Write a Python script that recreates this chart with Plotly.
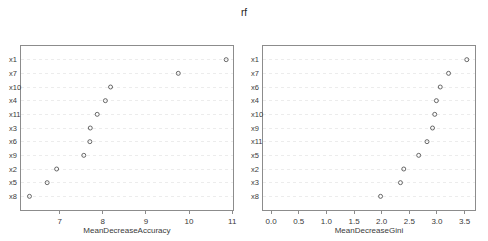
import plotly.graph_objects as go

acc_labels = ["x1", "x7", "x10", "x4", "x11", "x3", "x6", "x9", "x2", "x5", "x8"]
acc_values = [10.86, 9.75, 8.18, 8.06, 7.87, 7.71, 7.70, 7.56, 6.93, 6.71, 6.30]

gini_labels = ["x1", "x7", "x6", "x4", "x10", "x9", "x11", "x5", "x2", "x3", "x8"]
gini_values = [3.54, 3.21, 3.06, 2.99, 2.96, 2.92, 2.82, 2.67, 2.40, 2.34, 1.98]

acc_ticks = [7, 8, 9, 10, 11]
gini_ticks = [0.0, 0.5, 1.0, 1.5, 2.0, 2.5, 3.0, 3.5]

W, H = 488, 241
FONT = "Liberation Sans, Arial, sans-serif"
TXT = "#3a3a3a"

fig = go.Figure()

n = len(acc_labels)
rows = list(range(n, 0, -1))

mk = dict(symbol="circle-open", size=4, color="#444444", line=dict(width=0.8))
fig.add_trace(go.Scatter(x=acc_values, y=rows, mode="markers", xaxis="x", yaxis="y",
                         marker=mk, showlegend=False, hoverinfo="skip"))
fig.add_trace(go.Scatter(x=gini_values, y=rows, mode="markers", xaxis="x2", yaxis="y2",
                         marker=mk, showlegend=False, hoverinfo="skip"))

ydom = [1 - 210 / H, 1 - 46 / H]
common_x = dict(showline=True, mirror=True, linecolor="#8c8c8c", linewidth=1, ticks="outside",
                ticklen=3, tickcolor="#8c8c8c", showgrid=False, zeroline=False,
                tickfont=dict(size=8, color=TXT, family=FONT),
                title_font=dict(size=8, color=TXT, family=FONT), title_standoff=1)
common_y = dict(showline=True, mirror=True, linecolor="#8c8c8c", linewidth=1, range=[0, n + 1],
                tickvals=rows, showticklabels=False, ticks="", showgrid=True,
                gridcolor="#e0e0e0", griddash="dot", gridwidth=0.6, zeroline=False, domain=ydom)

fig.update_layout(
    width=W, height=H, margin=dict(l=0, r=0, t=0, b=0),
    paper_bgcolor="white", plot_bgcolor="white",
    xaxis=dict(domain=[21 / W, 235 / W], range=[6.10, 11.02], tickvals=acc_ticks,
               title_text="MeanDecreaseAccuracy", anchor="y", **common_x),
    xaxis2=dict(domain=[265 / W, 479 / W], range=[-0.15, 3.69], tickvals=gini_ticks,
                tickformat=".1f", title_text="MeanDecreaseGini", anchor="y2", **common_x),
    yaxis=dict(anchor="x", **common_y),
    yaxis2=dict(anchor="x2", **common_y),
    title=dict(text="rf", x=0.5, xanchor="center", y=1 - 12 / H, yanchor="middle",
               font=dict(size=10, color="#222222", family=FONT)),
)

for lab, r in zip(acc_labels, rows):
    fig.add_annotation(text=lab, x=7 / W, xref="paper", y=r, yref="y", xanchor="left",
                       yanchor="middle", showarrow=False, font=dict(size=7.5, color=TXT, family=FONT))
for lab, r in zip(gini_labels, rows):
    fig.add_annotation(text=lab, x=251 / W, xref="paper", y=r, yref="y2", xanchor="left",
                       yanchor="middle", showarrow=False, font=dict(size=7.5, color=TXT, family=FONT))

fig.write_html("out.html", config={"displayModeBar": False, "staticPlot": True},
               post_script="document.body.style.margin='0';document.body.style.padding='0';")
